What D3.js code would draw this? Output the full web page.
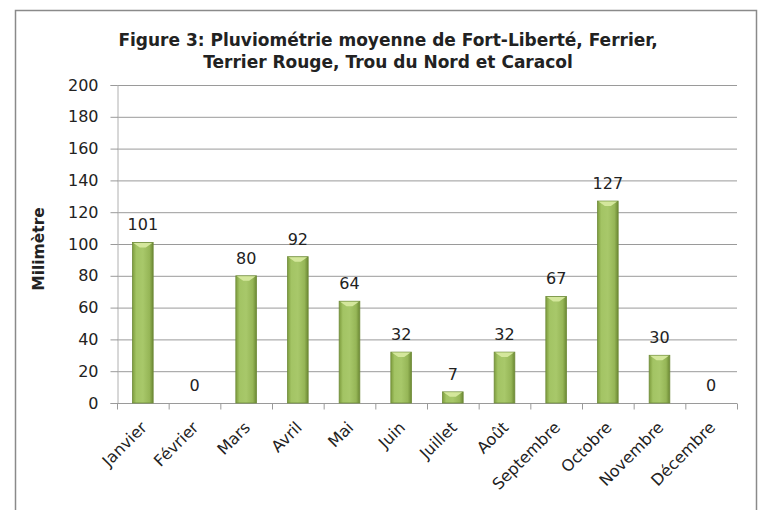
<!DOCTYPE html>
<html>
<head>
<meta charset="utf-8">
<script src="https://cdn.jsdelivr.net/npm/d3@7"></script>
<style>
  body { margin: 0; background: #fff; }
  svg { display: block; }
  text { font-family: "DejaVu Sans", sans-serif; fill: #222; }
</style>
</head>
<body>
<svg width="759" height="510"></svg>
<script>
// data
const months = ["Janvier", "Février", "Mars", "Avril", "Mai", "Juin", "Juillet",
    "Août", "Septembre", "Octobre", "Novembre", "Décembre"];
const rainfall = [101, 0, 80, 92, 64, 32, 7, 32, 67, 127, 30, 0];
const yTicks = [0, 20, 40, 60, 80, 100, 120, 140, 160, 180, 200];
const titleLines = ["Figure 3: Pluviométrie moyenne de Fort-Liberté, Ferrier,",
    "Terrier Rouge, Trou du Nord et Caracol"];

const svg = d3.select("svg");

// chart frame
svg.append("rect")
    .attr("x", 15.5).attr("y", 10.5)
    .attr("width", 741).attr("height", 520)
    .attr("fill", "none")
    .attr("stroke", "#8a8a8a")
    .attr("stroke-width", 1.5);

const plot = { left: 117, right: 737, top: 85, bottom: 403 };

const x = d3.scaleBand()
    .domain(months)
    .range([plot.left, plot.right])
    .paddingInner(0.6)
    .paddingOuter(0.3);

const band = d3.scaleBand().domain(months).range([plot.left, plot.right]);

const y = d3.scaleLinear().domain([0, 200]).range([plot.bottom, plot.top]);

// gradient for bars
const defs = svg.append("defs");
const grad = defs.append("linearGradient").attr("id", "barGrad")
    .attr("x1", "0%").attr("x2", "100%").attr("y1", "0%").attr("y2", "0%");
[["0%", "#7d9c3d"], ["18%", "#a3c464"], ["50%", "#a8c86a"], ["82%", "#96b657"], ["100%", "#6b8833"]]
    .forEach(s => grad.append("stop").attr("offset", s[0]).attr("stop-color", s[1]));

// gridlines
svg.append("g")
    .selectAll("line")
    .data(yTicks.filter(d => d > 0))
    .join("line")
    .attr("x1", plot.left).attr("x2", plot.right)
    .attr("y1", d => y(d) + 0.5).attr("y2", d => y(d) + 0.5)
    .attr("stroke", "#9a9a9a");

// y axis
const yAxis = svg.append("g")
    .attr("transform", `translate(${plot.left + 0.5},0)`)
    .call(d3.axisLeft(y).tickValues(yTicks).tickSize(7).tickPadding(12));
yAxis.select(".domain").attr("stroke", "#b0b0b0");
yAxis.selectAll(".tick line").attr("stroke", "#9a9a9a");
yAxis.selectAll("text").attr("font-size", 16).attr("font-family", "DejaVu Sans").attr("fill", "#222");

// x axis
const xAxis = svg.append("g")
    .attr("transform", `translate(0,${plot.bottom + 0.5})`);
xAxis.append("line")
    .attr("x1", plot.left).attr("x2", plot.right)
    .attr("stroke", "#9a9a9a");
xAxis.selectAll("line.tk")
    .data(months.concat(["_end"]))
    .join("line")
    .attr("class", "tk")
    .attr("x1", (d, i) => plot.left + i * band.step() + 0.5)
    .attr("x2", (d, i) => plot.left + i * band.step() + 0.5)
    .attr("y1", 0).attr("y2", 6)
    .attr("stroke", "#9a9a9a");
xAxis.selectAll("text")
    .data(months)
    .join("text")
    .attr("transform", d => `translate(${band(d) + band.bandwidth() / 2 + 5},25) rotate(-45)`)
    .attr("text-anchor", "end")
    .attr("font-size", 16)
    .text(d => d);

// bars
const bars = svg.append("g")
    .selectAll("g")
    .data(months.map((m, i) => ({ m, v: rainfall[i] })))
    .join("g");

bars.filter(d => d.v > 0).append("rect")
    .attr("x", d => x(d.m))
    .attr("y", d => y(d.v))
    .attr("width", x.bandwidth())
    .attr("height", d => y(0) - y(d.v))
    .attr("fill", "url(#barGrad)")
    .attr("stroke", "#6f8c3a")
    .attr("stroke-width", 0.8);

// top bevel
bars.filter(d => d.v > 0).append("path")
    .attr("d", d => {
        const x0 = x(d.m), w = x.bandwidth(), t = y(d.v);
        const h = Math.min(5, (y(0) - t) / 2);
        return `M${x0 + 1},${t + 0.5}L${x0 + w - 1},${t + 0.5}L${x0 + w / 2 + 3},${t + h}L${x0 + w / 2 - 3},${t + h}Z`;
    })
    .attr("fill", "#d4e79c");

// value labels
bars.append("text")
    .attr("x", d => x(d.m) + x.bandwidth() / 2)
    .attr("y", d => y(d.v) - 12)
    .attr("text-anchor", "middle")
    .attr("font-size", 16)
    .text(d => d.v);

// title
svg.append("g")
    .selectAll("text")
    .data(titleLines)
    .join("text")
    .attr("x", 388)
    .attr("y", (d, i) => 46 + i * 22)
    .attr("text-anchor", "middle")
    .attr("font-size", 17)
    .attr("font-weight", "bold")
    .text(d => d);

// y axis title
svg.append("text")
    .attr("transform", "translate(44,249) rotate(-90)")
    .attr("text-anchor", "middle")
    .attr("font-size", 15.5)
    .attr("font-weight", "bold")
    .text("Milimètre");
</script>
</body>
</html>
